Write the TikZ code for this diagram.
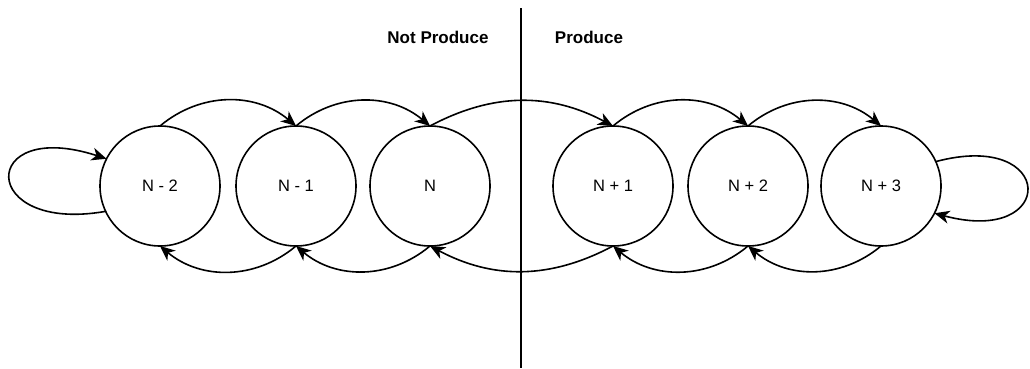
\documentclass[tikz,border=0pt]{standalone}
\usepackage{fontspec}
\setmainfont{Liberation Sans}
\usetikzlibrary{arrows.meta}
\begin{document}
\begin{tikzpicture}[x=1pt,y=1pt,
  state/.style={circle,draw,line width=1.6pt,minimum size=120pt,inner sep=0pt,outer sep=0pt,font=\fontsize{16.5}{18}\selectfont},
  conn/.style={line width=1.6pt,-{Stealth[length=15pt,width=13pt,inset=4.5pt]}},
  lbl/.style={font=\fontsize{17}{19}\selectfont\bfseries}]
\useasboundingbox (0,0) rectangle (1030,368);
\node[state] (n2) at (160,182) {N - 2};
\node[state] (n1) at (296,182) {N - 1};
\node[state] (n0) at (430,182) {N};
\node[state] (p1) at (613,182) {N + 1};
\node[state] (p2) at (748,182) {N + 2};
\node[state] (p3) at (881,182) {N + 3};
\node[lbl] (np) at (438,331) {Not Produce};
\node[lbl] (pr) at (589,331) {Produce};
\coordinate (vt) at (521,360);
\coordinate (vb) at (521,0);
\draw[line width=1.4pt] (vt) -- (vb);
% top arcs
\draw[conn] (n2.north) to[out=40,in=140] (n1.north);
\draw[conn] (n1.north) to[out=40,in=140] (n0.north);
\draw[conn] (n0.north) to[out=28,in=152] (p1.north);
\draw[conn] (p1.north) to[out=40,in=140] (p2.north);
\draw[conn] (p2.north) to[out=40,in=140] (p3.north);
% bottom arcs
\draw[conn] (n1.south) to[out=-140,in=-40] (n2.south);
\draw[conn] (n0.south) to[out=-140,in=-40] (n1.south);
\draw[conn] (p1.south) to[out=-152,in=-28] (n0.south);
\draw[conn] (p2.south) to[out=-140,in=-40] (p1.south);
\draw[conn] (p3.south) to[out=-140,in=-40] (p2.south);
% loops
\draw[conn] (n2.205) .. controls +(190:130) and +(162:135) .. (n2.153);
\draw[conn] (p3.24) .. controls +(15:125) and +(-15:128) .. (p3.-27);
\end{tikzpicture}
\end{document}
